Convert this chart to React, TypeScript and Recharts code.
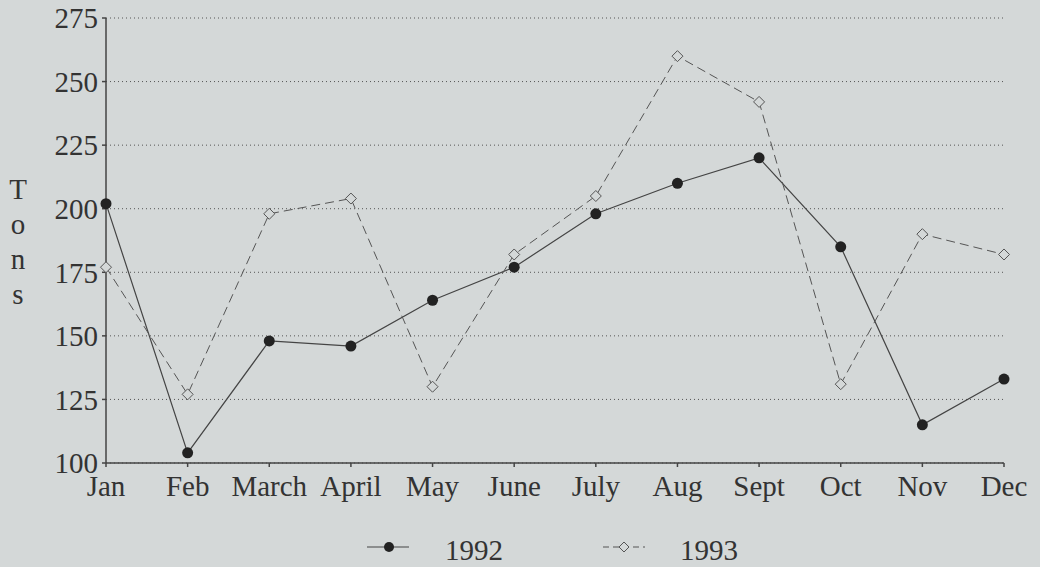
import React from 'react';
import { LineChart, Line, XAxis, YAxis, CartesianGrid, Legend, Label } from 'recharts';

const months = ['Jan', 'Feb', 'March', 'April', 'May', 'June', 'July', 'Aug', 'Sept', 'Oct', 'Nov', 'Dec'];
const tons1992 = [202, 104, 148, 146, 164, 177, 198, 210, 220, 185, 115, 133];
const tons1993 = [177, 127, 198, 204, 130, 182, 205, 260, 242, 131, 190, 182];
const yTicks = [100, 125, 150, 175, 200, 225, 250, 275];
const seriesNames = ['1992', '1993'];
const axisLetters = ['T', 'o', 'n', 's'];

const data = months.map((m, i) => ({ month: m, y1992: tons1992[i], y1993: tons1993[i] }));

const FONT = '"Liberation Serif", "Times New Roman", serif';
const BG = '#d4d8d8';
const INK = '#333';

const Diamond = (props: any) => {
  const { cx, cy } = props;
  if (cx == null || cy == null) return null;
  const s = 5.5;
  return (
    <path
      d={`M${cx},${cy - s} L${cx + s},${cy} L${cx},${cy + s} L${cx - s},${cy} Z`}
      fill={BG}
      stroke="#555"
      strokeWidth={1}
    />
  );
};

const LegendContent = () => (
  <svg width={1040} height={40} style={{ display: 'block' }}>
    <line x1={367} x2={409} y1={20} y2={20} stroke="#444" strokeWidth={1.2} />
    <circle cx={389} cy={20} r={5} fill="#222" />
    <text x={445} y={33} fontFamily={FONT} fontSize={29} fill={INK}>{seriesNames[0]}</text>
    <line x1={603} x2={645} y1={20} y2={20} stroke="#555" strokeWidth={1} strokeDasharray="6 4" />
    <path d="M624,15 L629,20 L624,25 L619,20 Z" fill={BG} stroke="#555" strokeWidth={1} />
    <text x={680} y={33} fontFamily={FONT} fontSize={29} fill={INK}>{seriesNames[1]}</text>
  </svg>
);

const TonsLabel = (props: any) => {
  const vb = props.viewBox || { x: 0 };
  return (
    <text x={vb.x + 18} y={199} fontFamily={FONT} fontSize={29} fill={INK} textAnchor="middle">
      {axisLetters.map((l, i) => (
        <tspan key={i} x={vb.x + 18} dy={i === 0 ? 0 : 35}>{l}</tspan>
      ))}
    </text>
  );
};

export default function App() {
  return (
    <div style={{ position: 'absolute', left: 0, top: 0, width: 1040, height: 567, background: BG }}>
      <LineChart
        width={1040}
        height={567}
        data={data}
        margin={{ top: 18, right: 36, bottom: 74, left: 0 }}
      >
        <CartesianGrid vertical={false} stroke="#555" strokeDasharray="1 3" />
        <XAxis
          dataKey="month"
          interval={0}
          height={30}
          tickSize={4}
          tickMargin={8}
          stroke="#444"
          strokeWidth={1.5}
          tick={{ fontFamily: FONT, fontSize: 29, fill: INK }}
        />
        <YAxis
          width={106}
          domain={[100, 275]}
          ticks={yTicks}
          interval={0}
          tickSize={4}
          tickMargin={4}
          stroke="#444"
          strokeWidth={1.5}
          tick={{ fontFamily: FONT, fontSize: 29, fill: INK }}
        >
          <Label content={<TonsLabel />} />
        </YAxis>
        <Legend
          layout="horizontal"
          verticalAlign="middle"
          align="center"
          wrapperStyle={{ top: 527, left: 0, width: 1040, height: 40 }}
          content={<LegendContent />}
        />
        <Line
          type="linear"
          dataKey="y1992"
          name={seriesNames[0]}
          stroke="#444"
          strokeWidth={1.2}
          dot={{ r: 5.5, fill: '#222', stroke: '#222', strokeWidth: 0 }}
          activeDot={false}
          isAnimationActive={false}
        />
        <Line
          type="linear"
          dataKey="y1993"
          name={seriesNames[1]}
          stroke="#555"
          strokeWidth={1}
          strokeDasharray="9 5"
          dot={<Diamond />}
          activeDot={false}
          isAnimationActive={false}
        />
      </LineChart>
    </div>
  );
}
